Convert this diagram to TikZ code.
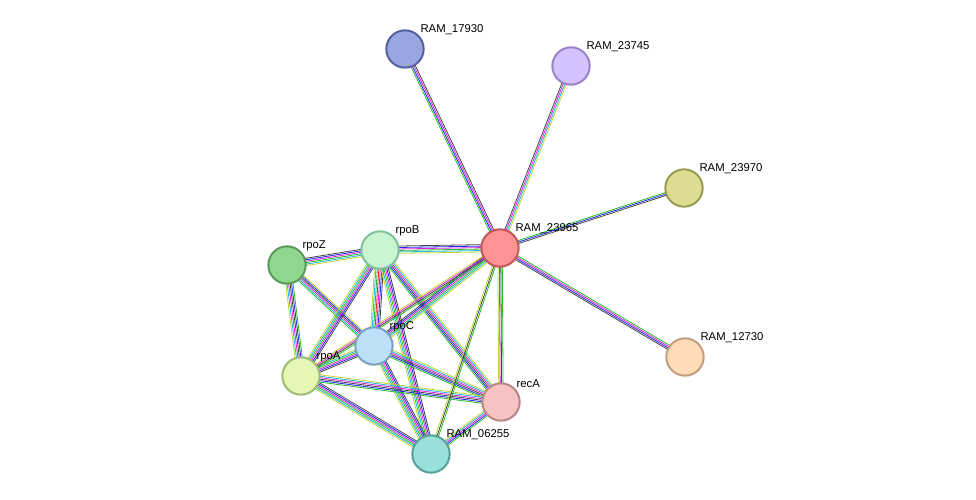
\documentclass[tikz,border=0pt]{standalone}
\usepackage{fontspec}
\setmainfont{Liberation Sans}
\usetikzlibrary{calc}
\pgfdeclarelayer{bg}
\pgfsetlayers{bg,main}

\definecolor{cY}{HTML}{C2D52E}
\definecolor{cC}{HTML}{22B2E2}
\definecolor{cG}{HTML}{22C022}
\definecolor{cM}{HTML}{E022E0}
\definecolor{cB}{HTML}{2222FF}
\definecolor{cK}{HTML}{444444}
\definecolor{cR}{HTML}{FF2020}

\definecolor{f17930}{HTML}{9AA6E0}\definecolor{d17930}{HTML}{5560A0}
\definecolor{f23745}{HTML}{D4C2FF}\definecolor{d23745}{HTML}{9A82C8}
\definecolor{f23970}{HTML}{DEDC92}\definecolor{d23970}{HTML}{9A9850}
\definecolor{f23965}{HTML}{FF9292}\definecolor{d23965}{HTML}{C05858}
\definecolor{f12730}{HTML}{FFDBB8}\definecolor{d12730}{HTML}{C09E80}
\definecolor{frpoZ}{HTML}{90D68F}\definecolor{drpoZ}{HTML}{589A58}
\definecolor{frpoB}{HTML}{C9F5D2}\definecolor{drpoB}{HTML}{80C09A}
\definecolor{frpoC}{HTML}{BCE0F8}\definecolor{drpoC}{HTML}{7AA2BC}
\definecolor{frpoA}{HTML}{E6F6B4}\definecolor{drpoA}{HTML}{A0B878}
\definecolor{frecA}{HTML}{F6C2C2}\definecolor{drecA}{HTML}{B88484}
\definecolor{f06255}{HTML}{98E0D8}\definecolor{d06255}{HTML}{56A098}

% multi-coloured link: from, to, count, colours
\newcommand{\link}[4]{%
  \foreach \c [count=\i] in {#4} {
    \pgfmathsetmacro{\o}{(\i-1-(#3-1)/2)*1.1}
    \draw[\c, line width=0.6pt] ($(#1.center)!\o pt!90:(#2.center)$) -- ($(#2.center)!\o pt!-90:(#1.center)$);
  }}

\begin{document}
\begin{tikzpicture}[x=0.75pt,y=-0.75pt,
    protein/.style={circle, draw=d#1, fill=f#1, line width=1.5pt, minimum size=28pt, inner sep=0pt},
    lbl/.style={anchor=south west, inner sep=0pt, font=\fontsize{8.5}{10}\selectfont, xshift=1pt}
  ]
  \useasboundingbox (0,0) rectangle (976,500);

  \node[protein=17930] (r17930) at (405,49) {};
  \node[protein=23745] (r23745) at (571,66) {};
  \node[protein=23970] (r23970) at (684,188) {};
  \node[protein=23965] (r23965) at (500,248) {};
  \node[protein=12730] (r12730) at (685,357) {};
  \node[protein=rpoZ] (rpoZ) at (287,265) {};
  \node[protein=rpoB] (rpoB) at (380,250) {};
  \node[protein=rpoC] (rpoC) at (374,346) {};
  \node[protein=rpoA] (rpoA) at (301,376) {};
  \node[protein=recA] (recA) at (501,402) {};
  \node[protein=06255] (r06255) at (431,454) {};

  \node[lbl] (l17930) at (r17930.north east) {RAM\_17930};
  \node[lbl] (l23745) at (r23745.north east) {RAM\_23745};
  \node[lbl] (l23970) at (r23970.north east) {RAM\_23970};
  \node[lbl] (l23965) at (r23965.north east) {RAM\_23965};
  \node[lbl] (l12730) at (r12730.north east) {RAM\_12730};
  \node[lbl] (lrpoZ) at (rpoZ.north east) {rpoZ};
  \node[lbl] (lrpoB) at (rpoB.north east) {rpoB};
  \node[lbl] (lrpoC) at (rpoC.north east) {rpoC};
  \node[lbl] (lrpoA) at (rpoA.north east) {rpoA};
  \node[lbl] (lrecA) at (recA.north east) {recA};
  \node[lbl] (l06255) at (r06255.north east) {RAM\_06255};

  \begin{pgfonlayer}{bg}
    \link{r17930}{r23965}{4}{cG,cB,cM,cK}
    \link{r23745}{r23965}{4}{cK,cM,cC,cY}
    \link{r23970}{r23965}{3}{cG,cB,cK}
    \link{r12730}{r23965}{4}{cG,cM,cB,cK}
    \link{rpoZ}{rpoB}{6}{cY,cC,cG,cM,cB,cK}
    \link{rpoZ}{rpoA}{6}{cY,cC,cM,cK,cB,cG}
    \link{rpoZ}{rpoC}{6}{cG,cC,cM,cK,cB,cY}
    \link{rpoB}{rpoC}{7}{cY,cC,cG,cR,cM,cB,cK}
    \link{rpoB}{rpoA}{6}{cY,cC,cG,cM,cB,cK}
    \link{rpoB}{recA}{6}{cG,cB,cK,cM,cC,cY}
    \link{rpoB}{r06255}{6}{cY,cC,cG,cM,cB,cK}
    \link{rpoB}{r23965}{6}{cY,cC,cG,cM,cB,cK}
    \link{rpoC}{rpoA}{6}{cY,cC,cG,cM,cB,cK}
    \link{rpoC}{recA}{6}{cG,cB,cK,cM,cC,cY}
    \link{rpoC}{r06255}{6}{cY,cC,cG,cM,cB,cK}
    \link{rpoC}{r23965}{6}{cY,cC,cG,cM,cB,cK}
    \link{rpoA}{recA}{6}{cG,cB,cK,cM,cC,cY}
    \link{rpoA}{r06255}{6}{cY,cC,cG,cM,cB,cK}
    \link{rpoA}{r23965}{4}{cG,cK,cM,cY}
    \link{recA}{r06255}{5}{cY,cC,cM,cB,cG}
    \link{recA}{r23965}{4}{cG,cK,cM,cY}
    \link{r06255}{r23965}{3}{cG,cK,cY}
  \end{pgfonlayer}
\end{tikzpicture}
\end{document}
